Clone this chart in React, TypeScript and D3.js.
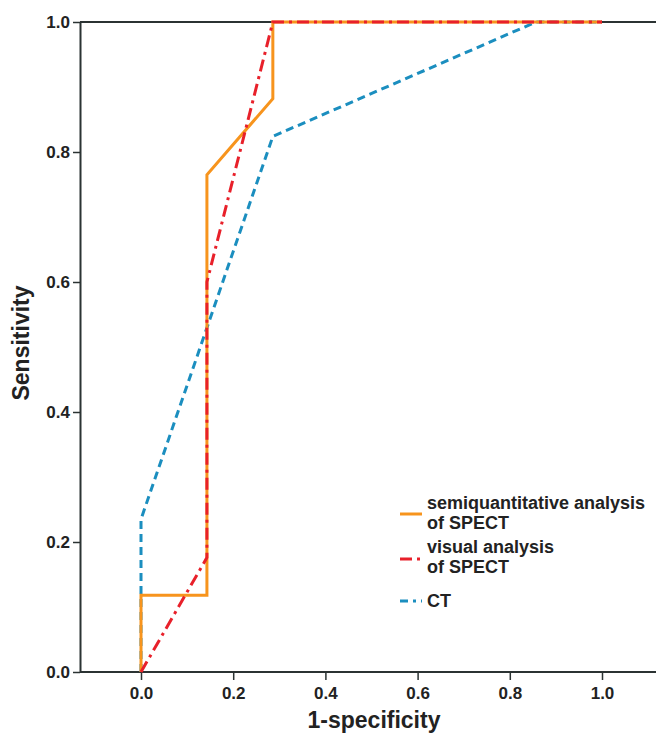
import React, { useEffect, useRef } from 'react';
import * as d3 from 'd3';

const width = 656;
const height = 733;
const margin = { top: 22, right: 0, bottom: 61, left: 80 };

// ROC points: [1-specificity, sensitivity]
const semiFpr = [0, 0, 0.143, 0.143, 0.286, 0.286, 1];
const semiTpr = [0, 0.118, 0.118, 0.765, 0.882, 1, 1];
const visualFpr = [0, 0.143, 0.143, 0.286, 1];
const visualTpr = [0, 0.176, 0.6, 1, 1];
const ctFpr = [0, 0, 0.286, 0.857, 1];
const ctTpr = [0, 0.235, 0.824, 1, 1];

const ticks = [0, 0.2, 0.4, 0.6, 0.8, 1.0];

const series = [
  { name: ['semiquantitative analysis', 'of SPECT'], fpr: semiFpr, tpr: semiTpr, color: '#f7941d', dash: null },
  { name: ['visual analysis', 'of SPECT'], fpr: visualFpr, tpr: visualTpr, color: '#e8202a', dash: '12,5,3,5' },
  { name: ['CT'], fpr: ctFpr, tpr: ctTpr, color: '#1b8ebf', dash: '8,5' },
];

const font = '"Liberation Sans", Arial, sans-serif';
const axisColor = '#2b3333';

const App = () => {
  const svgRef = useRef<SVGSVGElement>(null);

  useEffect(() => {
    const svg = d3.select(svgRef.current);
    svg.selectAll('*').remove();

    const x = d3.scaleLinear().domain([0, 1]).range([141, 602]);
    const y = d3.scaleLinear().domain([0, 1]).range([height - margin.bottom, margin.top]);

    // frame: top line
    svg.append('line')
      .attr('x1', margin.left).attr('x2', width)
      .attr('y1', y(1)).attr('y2', y(1))
      .attr('stroke', axisColor).attr('stroke-width', 2);

    const xAxis = svg.append('g')
      .attr('transform', `translate(0,${y(0)})`)
      .call(d3.axisBottom(x).tickValues(ticks).tickFormat(d3.format('.1f')).tickSize(8).tickSizeOuter(0));
    xAxis.select('.domain').attr('d', `M${margin.left},0H${width}`).attr('stroke', axisColor).attr('stroke-width', 2);
    xAxis.selectAll('.tick line').attr('stroke', axisColor).attr('stroke-width', 1.5);
    xAxis.selectAll('.tick text')
      .attr('y', 27).attr('dy', null)
      .style('font-family', font).style('font-size', '17px').style('font-weight', 'bold').attr('fill', '#222');

    const yAxis = svg.append('g')
      .attr('transform', `translate(${margin.left},0)`)
      .call(d3.axisLeft(y).tickValues(ticks).tickFormat(d3.format('.1f')).tickSize(7).tickSizeOuter(0));
    yAxis.select('.domain').attr('stroke', axisColor).attr('stroke-width', 2);
    yAxis.selectAll('.tick line').attr('stroke', axisColor).attr('stroke-width', 1.5);
    yAxis.selectAll('.tick text')
      .attr('x', -10)
      .style('font-family', font).style('font-size', '17px').style('font-weight', 'bold').attr('fill', '#222');

    const line = d3.line<[number, number]>().x(d => x(d[0])).y(d => y(d[1]));

    const order = [2, 0, 1];
    order.forEach(i => {
      const s = series[i];
      const pts = s.fpr.map((f, j) => [f, s.tpr[j]] as [number, number]);
      svg.append('path')
        .attr('d', line(pts))
        .attr('fill', 'none')
        .attr('stroke', s.color)
        .attr('stroke-width', 3)
        .attr('stroke-dasharray', s.dash)
        .attr('stroke-linejoin', 'miter');
    });

    // axis titles
    svg.append('text')
      .attr('x', 374)
      .attr('y', 728)
      .attr('text-anchor', 'middle')
      .style('font-family', font).style('font-size', '23px').style('font-weight', 'bold')
      .attr('fill', '#222')
      .text('1-specificity');

    svg.append('text')
      .attr('transform', 'rotate(-90)')
      .attr('x', -343)
      .attr('y', 29)
      .attr('text-anchor', 'middle')
      .style('font-family', font).style('font-size', '23px').style('font-weight', 'bold')
      .attr('fill', '#222')
      .text('Sensitivity');

    // legend
    const legendY = [514, 559, 601];
    const legendBase = [509, 553, 607];
    const legend = svg.append('g');
    series.forEach((s, i) => {
      const ly = legendY[i];
      legend.append('line')
        .attr('x1', 400).attr('x2', 422)
        .attr('y1', ly).attr('y2', ly)
        .attr('stroke', s.color).attr('stroke-width', 3)
        .attr('stroke-dasharray', i === 1 ? '12,5,3,5' : i === 2 ? '8,5,3,5' : null);
      const t = legend.append('text')
        .attr('x', 427)
        .attr('y', legendBase[i])
        .style('font-family', font).style('font-size', '18px').style('font-weight', 'bold')
        .attr('fill', '#222');
      s.name.forEach((n, k) => {
        t.append('tspan').attr('x', 427).attr('dy', k === 0 ? 0 : 20).text(n);
      });
    });
  }, []);

  return (
    <svg ref={svgRef} width={width} height={height}
      style={{ position: 'absolute', left: 0, top: 0, background: '#fff' }} />
  );
};

export default App;
